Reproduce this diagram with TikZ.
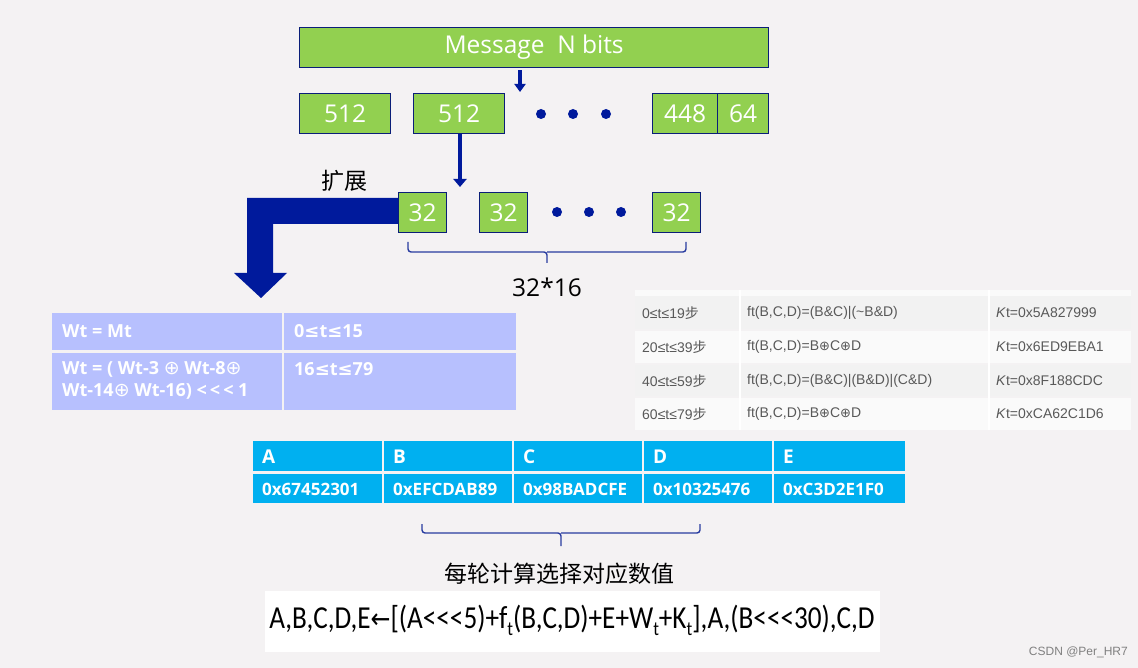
\documentclass[tikz,border=0pt]{standalone}
\usepackage{fontspec}
\setmainfont{Open Sans}
\newfontfamily\cjk{Noto Sans CJK SC}
\newfontfamily\dv{DejaVu Sans}
\newfontfamily\arialf{Liberation Sans}
\newfontfamily\calf{Carlito}
\usetikzlibrary{arrows.meta}
\definecolor{bg}{RGB}{244,242,243}
\definecolor{grn}{RGB}{146,208,80}
\definecolor{navy}{RGB}{10,30,120}
\definecolor{darr}{RGB}{0,26,156}
\definecolor{brc}{RGB}{40,60,160}
\definecolor{peri}{RGB}{183,192,254}
\definecolor{cyanc}{RGB}{0,176,240}
\definecolor{rowa}{RGB}{242,242,242}
\definecolor{rowb}{RGB}{250,250,250}
\definecolor{tgray}{RGB}{89,89,89}
\newcommand\sbt{\raisebox{-7pt}{\fontsize{20}{20}\selectfont t}}
\newcommand\wox{{\dv\mdseries\fontsize{19}{19}\selectfont ⊕}}
\newcommand\rox{{\dv\fontsize{13}{13}\selectfont ⊕}}
\tikzset{
  gbox/.style={draw=navy, line width=1.2pt, fill=grn, text=white, inner sep=0pt, anchor=north west, font=\fontsize{24.5}{28}\selectfont},
  dotc/.style={fill=darr, circle, inner sep=0pt, minimum size=10pt},
  arr/.style={draw=darr, line width=4.5pt, -{Triangle[width=13pt,length=8pt]}},
  brace/.style={draw=brc, line width=1.4pt, rounded corners=3pt},
  wtxt/.style={text=white, anchor=west, inner sep=0pt, font=\bfseries\fontsize{18}{22}\selectfont},
  ctxt/.style={text=white, anchor=west, inner sep=0pt, font=\bfseries\fontsize{17}{21}\selectfont},
  rtxt/.style={text=tgray, anchor=west, inner sep=0pt, font=\arialf\fontsize{14}{16}\selectfont},
}
\begin{document}
\begin{tikzpicture}[x=1pt,y=-1pt]
\useasboundingbox (0,0) rectangle (1138,668);
\fill[bg] (0,0) rectangle (1138,668);

% top message
\node[gbox, minimum width=469pt, minimum height=40pt] (msg) at (299,27) {Message\ \ N bits};
\node[gbox, minimum width=91pt, minimum height=40pt] (b1) at (299,93) {512};
\node[gbox, minimum width=91pt, minimum height=40pt] (b2) at (413,93) {512};
\node[gbox, minimum width=65pt, minimum height=40pt] (b448) at (652,93) {448};
\node[gbox, minimum width=51pt, minimum height=40pt] (b64) at (717,93) {64};
\node[dotc] (d1) at (541,114) {};
\node[dotc] (d2) at (573,114) {};
\node[dotc] (d3) at (606,114) {};
\coordinate (a1) at (520,92);
\draw[arr, line width=4pt, -{Triangle[width=11pt,length=8pt]}] ([yshift=-2pt]msg.south -| a1) -- (a1);

% 32 boxes
\node[gbox, minimum width=48pt, minimum height=40pt] (c1) at (398,192) {32};
\node[gbox, minimum width=48pt, minimum height=40pt] (c2) at (479,192) {32};
\node[gbox, minimum width=48pt, minimum height=40pt] (c3) at (652,192) {32};
\node[dotc] (e1) at (557,212) {};
\node[dotc] (e2) at (589,212) {};
\node[dotc] (e3) at (621,212) {};
\coordinate (a2) at (460,187);
\draw[arr] (b2.south -| a2) -- (a2);

% brace 32*16
\coordinate (br1l) at (408,242);
\coordinate (br1r) at (686,242);
\coordinate (br1t) at (547,263);
\draw[brace] (br1l) |- (br1t |- 0,252) -- (br1t);
\draw[brace] (br1r) |- (br1t |- 0,252);
\node[font=\fontsize{24.5}{28}\selectfont, inner sep=0pt] (lbl3216) at (547,287) {32*16};

% expand
\node[font=\cjk\fontsize{23}{26}\selectfont, inner sep=0pt] (kz) at (344,181) {扩展};
\fill[darr] (c1.west |- 0,198) -- (247,198) -- (247,273) -- (234,273) -- (261,298) -- (287,273) -- (273,273) -- (273,224) -- (c1.west |- 0,224) -- cycle;

% Wt table
\fill[peri] (52,313) rectangle (282,350);
\fill[peri] (284,313) rectangle (516,350);
\fill[peri] (52,353) rectangle (282,410);
\fill[peri] (284,353) rectangle (516,410);
\node[wtxt] (w11) at (62,331) {Wt = Mt};
\node[wtxt] (w12) at (294,331) {0{\dv\bfseries ≤}t{\dv\bfseries ≤}15};
\node[wtxt] (w21) at (62,369) {Wt = ( Wt-3 \wox\ Wt-8\wox};
\node[wtxt] (w22) at (62,391) {Wt-14\wox\ Wt-16) {<}\,{<}\,{<} 1};
\node[wtxt] (w23) at (294,369) {16{\dv\bfseries ≤}t{\dv\bfseries ≤}79};

% right table
\fill[rowb] (635,290) rectangle (1131,296);
\fill[rowa] (635,296) rectangle (1131,329);
\fill[rowb] (635,331) rectangle (1131,363);
\fill[rowa] (635,365) rectangle (1131,396);
\fill[rowb] (635,398) rectangle (1131,430);
\draw[white, line width=2pt] (740,290) -- (740,430) (989,290) -- (989,430);
\node[rtxt] (r11) at (642,313) {0≤t≤19{\cjk 步}};
\node[rtxt] (r12) at (747,313) {ft(B,C,D)=(B\&C)|(\textasciitilde B\&D)};
\node[rtxt] (r13) at (996,313) {\textit{K}t=0x5A827999};
\node[rtxt] (r21) at (642,347) {20≤t≤39{\cjk 步}};
\node[rtxt] (r22) at (747,347) {ft(B,C,D)=B\rox C\rox D};
\node[rtxt] (r23) at (996,347) {\textit{K}t=0x6ED9EBA1};
\node[rtxt] (r31) at (642,381) {40≤t≤59{\cjk 步}};
\node[rtxt] (r32) at (747,381) {ft(B,C,D)=(B\&C)|(B\&D)|(C\&D)};
\node[rtxt] (r33) at (996,381) {\textit{K}t=0x8F188CDC};
\node[rtxt] (r41) at (642,414) {60≤t≤79{\cjk 步}};
\node[rtxt] (r42) at (747,414) {ft(B,C,D)=B\rox C\rox D};
\node[rtxt] (r43) at (996,414) {\textit{K}t=0xCA62C1D6};

% ABCDE table
\foreach \l/\r/\h/\v [count=\i] in {253/382/A/0x67452301, 384/512/B/0xEFCDAB89, 514/642/C/0x98BADCFE, 644/772/D/0x10325476, 774/905/E/0xC3D2E1F0}{
  \fill[cyanc] (\l,441) rectangle (\r,471);
  \fill[cyanc] (\l,474) rectangle (\r,503);
  \node[ctxt, font=\bfseries\fontsize{19}{22}\selectfont] (h\i) at (\l+9,457) {\h};
  \node[ctxt] (v\i) at (\l+9,489) {\v};
}

% brace 2
\coordinate (br2l) at (422,524);
\coordinate (br2r) at (700,524);
\coordinate (br2t) at (561,546);
\draw[brace] (br2l) |- (br2t |- 0,533) -- (br2t);
\draw[brace] (br2r) |- (br2t |- 0,533);
\node[font=\cjk\fontsize{23}{26}\selectfont, inner sep=0pt] (sel) at (559,574) {每轮计算选择对应数值};

% formula
\fill[white] (265,591) rectangle (880,652);
\node[inner sep=0pt, font=\calf\fontsize{32}{36}\selectfont] (formula) at (572,620) {\scalebox{0.85}[1]{A,B,C,D,E{\dv\fontsize{28}{28}\selectfont ←}[(A{<}{<}{<}5)+f\sbt(B,C,D)+E+W\sbt+K\sbt],A,(B{<}{<}{<}30),C,D}};

% watermark
\node[anchor=east, inner sep=0pt, text=gray, font=\arialf\fontsize{12}{14}\selectfont] (wm) at (1128,652) {CSDN @Per\_HR7};
\end{tikzpicture}
\end{document}
